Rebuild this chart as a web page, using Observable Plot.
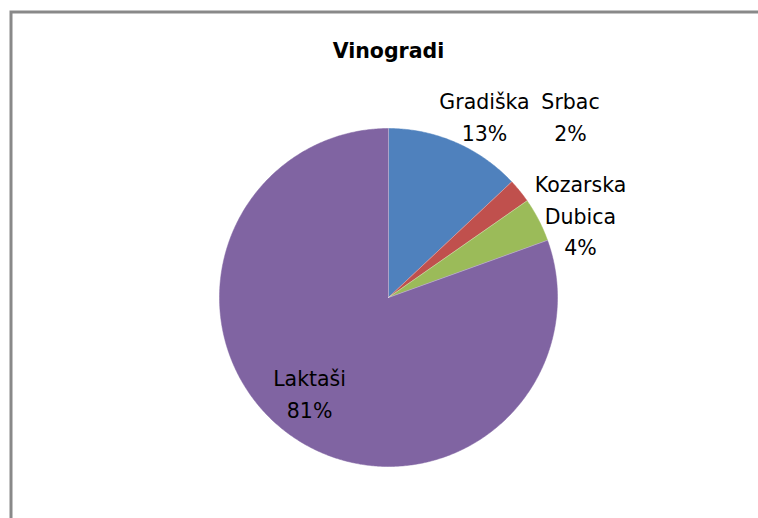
<!DOCTYPE html>
<html>
<head>
<meta charset="utf-8">
<script src="https://cdn.jsdelivr.net/npm/d3@7"></script>
<script src="https://cdn.jsdelivr.net/npm/@observablehq/plot@0.6"></script>
<style>
  html, body { margin: 0; padding: 0; background: #fff; }
  svg { display: block; }
</style>
</head>
<body>
<div id="chart"></div>
<script>
// Data
const title = "Vinogradi";
const categories = ["Gradiška", "Srbac", "Kozarska\nDubica", "Laktaši"];
const values = [13, 2.3, 4.2, 80.5];
const colors = ["#4F81BD", "#C0504D", "#9BBB59", "#8064A2"];

// Layout (label positions in pie-radius units relative to pie centre)
const labelX = [0.568, 1.077, 1.136, -0.467];
const labelY = [1.083, 1.083, 0.497, -0.556];

const total = d3.sum(values);
const pie = d3.pie().sort(null).value(d => d)(values);

// Build slice outlines from pie angles (angle from top, clockwise)
const slices = pie.map((p, i) => {
  const pts = [{x: 0, y: 0}];
  const n = Math.max(2, Math.ceil((p.endAngle - p.startAngle) / (Math.PI / 360)));
  for (let k = 0; k <= n; k++) {
    const a = p.startAngle + (p.endAngle - p.startAngle) * k / n;
    pts.push({x: Math.sin(a), y: Math.cos(a)});
  }
  pts.push({x: 0, y: 0});
  return pts;
});

const labels = categories.map((c, i) => ({
  text: c + "\n" + Math.round(values[i] / total * 100) + "%",
  x: labelX[i],
  y: labelY[i]
}));

const cx = 388, cy = 297, r = 169;

const chart = Plot.plot({
  width: 758,
  height: 518,
  margin: 0,
  x: {domain: [-1, 1], range: [cx - r, cx + r], axis: null},
  y: {domain: [-1, 1], range: [cy + r, cy - r], axis: null},
  style: {background: "#fff"},
  marks: [
    Plot.frame({stroke: "#898989", strokeWidth: 3, insetLeft: 10.5, insetTop: 11.5, insetRight: -10, insetBottom: -10}),
    ...slices.map((pts, i) => Plot.line(pts, {x: "x", y: "y", fill: colors[i], stroke: colors[i], strokeWidth: 0.5, curve: "linear"})),
    ...slices.map((pts, i) => Plot.line([pts[0], pts[1]], {x: "x", y: "y", stroke: "#ffffff", strokeOpacity: 0.35, strokeWidth: 1})),
    Plot.text(labels, {
      x: "x", y: "y", text: "text",
      fontFamily: "DejaVu Sans", fontSize: 20.5, lineHeight: 1.55,
      fill: "#000", textAnchor: "middle", lineAnchor: "middle"
    }),
    Plot.text([title], {
      x: [0], y: [1.454], text: d => d,
      fontFamily: "DejaVu Sans", fontWeight: "bold", fontSize: 20.5,
      fill: "#000", textAnchor: "middle", lineAnchor: "middle"
    })
  ]
});
document.getElementById("chart").appendChild(chart);
</script>
</body>
</html>
